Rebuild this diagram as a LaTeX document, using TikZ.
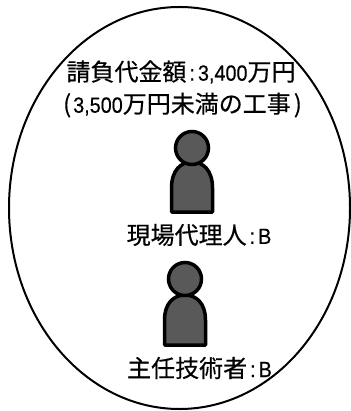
\documentclass[tikz,border=0pt]{standalone}
\usepackage{fontspec}
\setmainfont[FakeStretch=0.9,FakeBold=0.4]{Liberation Sans}
\newfontfamily\cjk[FakeBold=0.4]{Noto Sans CJK JP}
\usetikzlibrary{shapes.geometric}
\newcommand{\jp}[1]{{\fontsize{24}{24}\cjk #1}}
\newcommand{\cln}{\hspace{3pt}:\hspace{3pt}}
\tikzstyle{oval} = [ellipse, minimum width=341pt, minimum height=402pt, inner sep=0pt, draw=black, line width=2pt]
\tikzstyle{lbl} = [inner sep=0pt, font=\fontsize{22}{24}\selectfont, text=black]
\tikzstyle{head} = [circle, minimum size=33pt, inner sep=0pt, draw=black, line width=3.5pt, fill=black!65]
\tikzstyle{body} = [draw=black, line width=3.5pt, line join=round, fill=black!65]

\begin{document}
\begin{tikzpicture}[x=1pt, y=-1pt]
\useasboundingbox (0,0) rectangle (350,411);
% Drawing nodes
\node (oval1) [oval] at (179.5,208) {};
\node (cost) [lbl] at (181,72) {\jp{請負代金額}\cln 3,400\jp{万円}};
\node (note) [lbl] at (182.5,105) {\jp{(}\hspace{2pt}3,500\jp{万円未満の工事}\hspace{3pt}\jp{)}};
\node (agent) [lbl] at (199,235) {\jp{現場代理人}\cln B};
\node (chief) [lbl] at (199.5,368) {\jp{主任技術者}\cln B};

% Drawing figures
\draw [body] (171.5,212) -- (171.5,188) .. controls (171.5,170) and (181,162) .. (192,162) .. controls (203,162) and (212.5,170) .. (212.5,188) -- (212.5,212) -- cycle;
\node (head1) [head] at (192,148) {};
\draw [body] (164.5,345) -- (164.5,320) .. controls (164.5,303) and (174,295) .. (185,295) .. controls (196,295) and (205.5,303) .. (205.5,320) -- (205.5,345) -- cycle;
\node (head2) [head] at (185,279) {};
\end{tikzpicture}
\end{document}
